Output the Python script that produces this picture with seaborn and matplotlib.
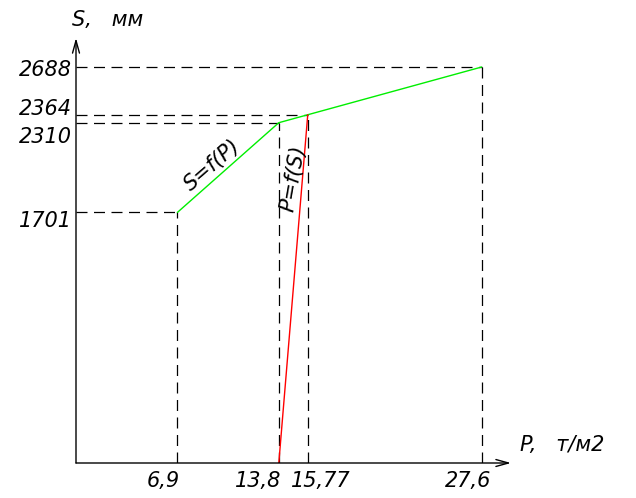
import numpy as np
import pandas as pd
import matplotlib
matplotlib.use("Agg")
import matplotlib.pyplot as plt
import seaborn as sns

# values
p_vals = [6.9, 13.8, 15.77, 27.6]
s_vals = [1701, 2310, 2364, 2688]
p_labels = ["6,9", "13,8", "15,77", "27,6"]
s_labels = ["1701", "2310", "2364", "2688"]

# red line P=f(S)
red_p = [13.8, 15.77]
red_s = [0, 2364]

sns.set_style("white")
plt.rcParams["font.family"] = ["DejaVu Sans"]
plt.rcParams["font.style"] = "italic"
plt.rcParams["text.color"] = "black"

W, H = 636, 498
fig = plt.figure(figsize=(W / 100, H / 100), dpi=100)
# axis origin at (76, 463) px, arrow tips at x=511 and y=38
ax = fig.add_axes([76 / W, (H - 463) / H, (511 - 76) / W, (463 - 38) / H])
ax.set_xlim(0, 29.6)
ax.set_ylim(0, 2885)
ax.axis("off")

fs = 15
dash = (0, (8.8, 5.2))

# dashed guide lines
for p, s in zip(p_vals, s_vals):
    ax.plot([0, p], [s, s], color="black", lw=0.9, linestyle=dash, zorder=1)
    ax.plot([p, p], [0, s], color="black", lw=0.9, linestyle=dash, zorder=1)

df_green = pd.DataFrame({"P": p_vals, "S": s_vals})
df_red = pd.DataFrame({"P": red_p, "S": red_s})
sns.lineplot(data=df_green, x="P", y="S", color="#00ee00", lw=1.0, sort=False, ax=ax, zorder=3)
sns.lineplot(data=df_red, x="P", y="S", color="#ff0000", lw=1.0, sort=False, ax=ax, zorder=3)

# axes with open arrow heads
arrow = dict(arrowstyle="->,head_length=9,head_width=2.5", mutation_scale=1,
             color="black", lw=1.0, shrinkA=0, shrinkB=0)
ax.annotate("", xy=(1, 0), xytext=(0, 0), xycoords="axes fraction", arrowprops=arrow)
ax.annotate("", xy=(0, 1), xytext=(0, 0), xycoords="axes fraction", arrowprops=arrow)

# y labels (offsets in points from the guide line)
y_offsets = {"1701": -6, "2310": -10, "2364": 4, "2688": -2.5}
for s, lab in zip(s_vals, s_labels):
    ax.annotate(lab, xy=(0, s), xytext=(-3, y_offsets[lab]), textcoords="offset points",
                ha="right", va="center", fontsize=fs)

# x labels
x_place = {"6,9": ("right", 2), "13,8": ("right", 2), "15,77": ("left", -12), "27,6": ("center", -10)}
for p, lab in zip(p_vals, p_labels):
    ha, dx = x_place[lab]
    ax.annotate(lab, xy=(p, 0), xytext=(dx, -13), textcoords="offset points",
                ha=ha, va="center", fontsize=fs)

# curve names
ax.text(9.25, 2023, "S=f(P)", rotation=41, rotation_mode="anchor",
        ha="center", va="center", fontsize=fs)
ax.text(14.76, 1934, "P=f(S)", rotation=80, rotation_mode="anchor",
        ha="center", va="center", fontsize=fs)

# axis titles
fig.text(72 / W, 1 - 20 / H, "S,   мм", ha="left", va="center", fontsize=fs)
fig.text(520 / W, 1 - 445 / H, "P,   т/м2", ha="left", va="center", fontsize=fs)

fig.savefig("out.png", dpi=100)
